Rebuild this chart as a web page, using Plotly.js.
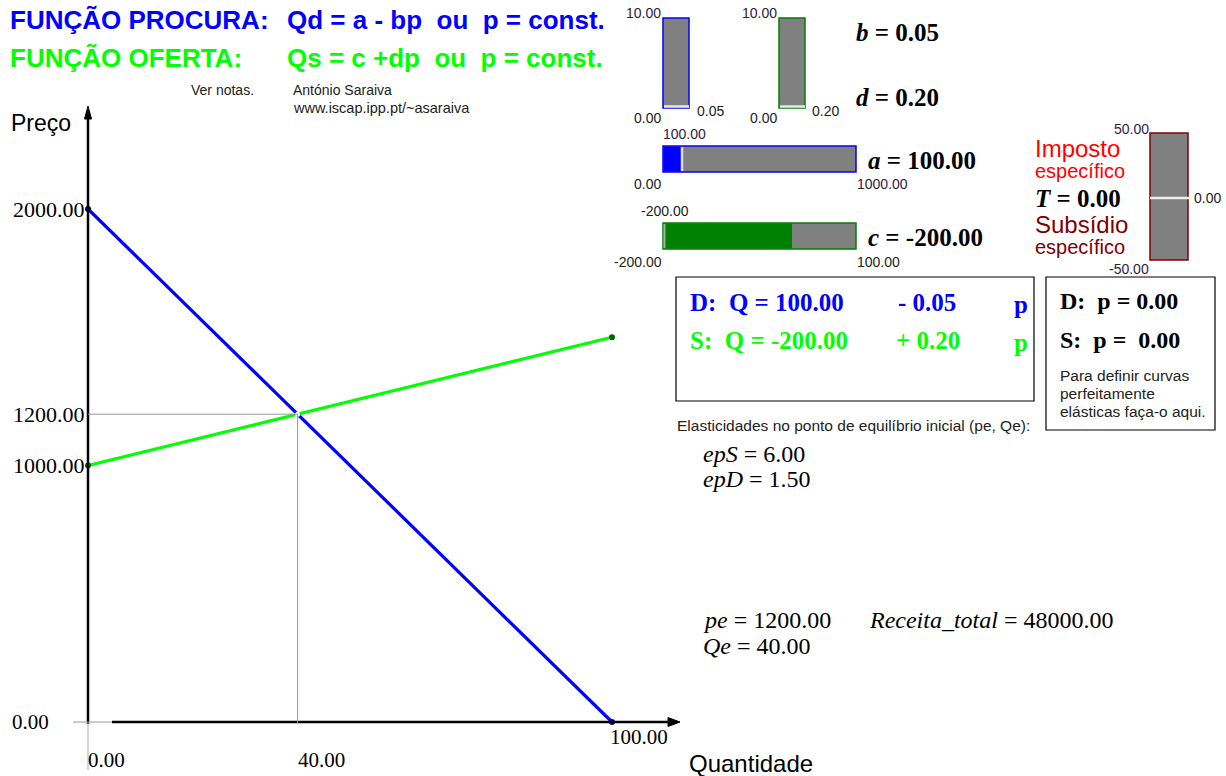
<!DOCTYPE html>
<html><head><meta charset="utf-8">
<script src="https://cdn.plot.ly/plotly-3.0.1.min.js"></script>
<style>html,body{margin:0;padding:0;background:#fff}#chart{width:1226px;height:776px}</style>
</head><body><div id="chart"></div>
<script>
// ---- data ----
const quantity = [0, 100];
const demandPrice = [2000, 0];      // Qd = 100 - 0.05p
const supplyPrice = [1000, 1500];   // Qs = -200 + 0.20p
const eqQ = 40, eqP = 1200;
const yTickLabels = ["2000.00", "1200.00", "1000.00", "0.00"];
const yTickValues = [2000, 1200, 1000, 0];
const xTickLabels = ["0.00", "40.00", "100.00"];
const xTickValues = [0, 40, 100];

// ---- pixel mapping for data axes ----
const W = 1226, H = 776;
const ox = 88, oy = 722, sx = 5.24, sy = 0.2565;
const xr = [-ox / sx, (W - ox) / sx];
const yr = [-(H - oy) / sy, oy / sy];
const X = q => ox + q * sx, Y = p => oy - p * sy;

const SANS = "Liberation Sans, Arial, sans-serif";
const SERIF = "Liberation Serif, Times New Roman, serif";

const shapes = [], ann = [];
function rect(x0, y0, x1, y1, fill, line, lw) {
  shapes.push({type: 'rect', xref: 'x2', yref: 'y2', x0, y0, x1, y1, fillcolor: fill, line: {color: line, width: lw === undefined ? 1 : lw}});
}
function seg(x0, y0, x1, y1, color, w) {
  shapes.push({type: 'line', xref: 'x2', yref: 'y2', x0, y0, x1, y1, line: {color, width: w}});
}
function txt(x, y, text, size, color, family, anchor) {
  ann.push({xref: 'x2', yref: 'y2', x, y, text, showarrow: false, xanchor: anchor || 'left', yanchor: 'middle',
    font: {size, color, family: family || SANS}});
}

// titles
txt(8, 20, "<b>FUNÇÃO PROCURA:</b>", 26, "#0000FF");
txt(285, 20, "<b>Qd = a - bp  ou  p = const.</b>", 26, "#0000FF");
txt(8, 58, "<b>FUNÇÃO OFERTA:</b>", 26, "#00FF00");
txt(285, 58, "<b>Qs = c +dp  ou  p = const.</b>", 26, "#00FF00");
txt(189, 90, "Ver notas.", 14, "#222");
txt(291, 90, "António Saraiva", 14, "#222");
txt(291, 108, "www.iscap.ipp.pt/~asaraiva", 14.5, "#222");
txt(9, 123, "Preço", 23, "#000");
txt(687, 763, "Quantidade", 24, "#000");

// axes
seg(X(0), Y(0) + 2, X(0), 112, "#000", 2.5);
shapes.push({type: 'path', xref: 'x2', yref: 'y2', path: 'M 84.5 119 L 88 106 L 91.5 119 Z', fillcolor: '#000', line: {color: '#000', width: 1}});
seg(112, Y(0), 670, Y(0), "#000", 2.5);
seg(73, Y(0), 112, Y(0), "#999", 1.2);
seg(X(0), Y(0), X(0), 770, "#aaa", 1);
shapes.push({type: 'path', xref: 'x2', yref: 'y2', path: 'M 668 717.5 L 680 722 L 668 726.5 Z', fillcolor: '#000', line: {color: '#000', width: 1}});
// equilibrium guides
seg(X(0), Y(eqP), X(eqQ), Y(eqP), "#999", 1);
seg(X(eqQ), Y(eqP), X(eqQ), Y(0) + 2, "#999", 1);

// tick labels
yTickValues.forEach((v, i) => {
  if (v === 0) txt(10, Y(v), yTickLabels[i], 21, "#000", SERIF);
  else txt(87, Y(v), yTickLabels[i], 22, "#000", SERIF, 'right');
});
txt(86, 760, xTickLabels[0], 21, "#000", SERIF);
txt(296, 760, xTickLabels[1], 21, "#000", SERIF);
txt(608, 737, xTickLabels[2], 21, "#000", SERIF);

// ---- sliders ----
const slab = "#302040";
// b slider
rect(663, 18, 689, 108, "#808080", "#0000FF", 1.5);
seg(664, 106.5, 689, 106.5, "#e8e8e8", 2.5);
txt(663, 13, "10.00", 14, slab, SANS, 'right');
txt(663, 118, "0.00", 14, "#222", SANS, 'right');
txt(695, 111, "0.05", 14, "#222");
// d slider
rect(779, 18, 805, 108, "#808080", "#008000", 1.5);
seg(780, 106.5, 805, 106.5, "#e8e8e8", 2.5);
txt(779, 13, "10.00", 14, slab, SANS, 'right');
txt(779, 118, "0.00", 14, "#222", SANS, 'right');
txt(810, 111, "0.20", 14, "#222");
txt(854, 32, "<b><i>b</i> = 0.05</b>", 25, "#000", SERIF);
txt(854, 97, "<b><i>d</i> = 0.20</b>", 25, "#000", SERIF);
// a slider
rect(663, 146, 856, 172, "#808080", "#0000FF", 1.5);
rect(663.5, 146.5, 681, 171.5, "#0000FF", "#0000FF", 0);
seg(682, 147, 682, 171, "#e0e0e0", 2.5);
txt(661, 134, "100.00", 14, slab);
txt(663, 184, "0.00", 14, "#222", SANS, 'right');
txt(855, 184, "1000.00", 14, slab);
txt(866, 160, "<b><i>a</i> = 100.00</b>", 25, "#000", SERIF);
// c slider
rect(663, 223, 856, 249, "#808080", "#008000", 1.5);
rect(664, 223.5, 792, 248.5, "#008000", "#008000", 0);
seg(664.5, 224, 664.5, 248, "#aaa", 2);
txt(639, 211, "-200.00", 14, "#222");
txt(664, 262, "-200.00", 14, "#222", SANS, 'right');
txt(855, 262, "100.00", 14, "#222");
txt(866, 237, "<b><i>c</i> = -200.00</b>", 25, "#000", SERIF);
// T slider
rect(1150, 133, 1188, 260, "#808080", "#800000", 1.5);
seg(1150, 198, 1190, 198, "#f0f0f0", 2.5);
txt(1151, 129, "50.00", 14, slab, SANS, 'right');
txt(1192, 198, "0.00", 14, "#222");
txt(1151, 269, "-50.00", 14, slab, SANS, 'right');
txt(1033, 148, "Imposto", 24, "#FF0000");
txt(1033, 171, "específico", 20, "#FF0000");
txt(1033, 198, "<b><i>T</i> = 0.00</b>", 25, "#000", SERIF);
txt(1033, 224, "Subsídio", 24, "#800000");
txt(1033, 247, "específico", 20, "#800000");

// equation box
rect(676, 277, 1034, 401, "rgba(0,0,0,0)", "#000", 1.2);
txt(688, 302, "<b>D:  Q = 100.00</b>", 25, "#0000FF", SERIF);
txt(896, 302, "<b>- 0.05</b>", 25, "#0000FF", SERIF);
txt(1012, 304, "<b>p</b>", 25, "#0000FF", SERIF);
txt(688, 340, "<b>S:  Q = -200.00</b>", 25, "#00FF00", SERIF);
txt(894, 340, "<b>+ 0.20</b>", 25, "#00FF00", SERIF);
txt(1012, 342, "<b>p</b>", 25, "#00FF00", SERIF);
// constant price box
rect(1046, 277, 1215, 430, "rgba(0,0,0,0)", "#000", 1.2);
txt(1058, 301, "<b>D:  p = 0.00</b>", 24, "#000", SERIF);
txt(1058, 340, "<b>S:  p =  0.00</b>", 24, "#000", SERIF);
txt(1058, 375, "Para definir curvas", 15.5, "#222");
txt(1058, 393, "perfeitamente", 15.5, "#222");
txt(1058, 411, "elásticas faça-o aqui.", 15.5, "#222");

txt(675, 425, "Elasticidades no ponto de equilíbrio inicial (pe, Qe):", 15.5, "#222");
txt(701, 454, "<i>epS</i> = 6.00", 24, "#000", SERIF);
txt(701, 479, "<i>epD</i> = 1.50", 24, "#000", SERIF);
txt(701, 620, "<i>pe</i> = 1200.00", 24, "#000", SERIF);
txt(867, 620, "<i>Receita_total</i> = 48000.00", 24, "#000", SERIF);
txt(701, 646, "<i>Qe</i> = 40.00", 24, "#000", SERIF);

const traces = [
  {x: quantity, y: demandPrice, type: 'scatter', mode: 'lines+markers', line: {color: '#0000FF', width: 3.2},
   marker: {color: '#000080', size: 6}, hoverinfo: 'none'},
  {x: quantity, y: supplyPrice, type: 'scatter', mode: 'lines+markers', line: {color: '#00FF00', width: 3.2},
   marker: {color: '#006400', size: 6}, hoverinfo: 'none'},
  {x: [eqQ], y: [eqP], type: 'scatter', mode: 'markers', marker: {color: '#ffffff', size: 5}, hoverinfo: 'none'}
];

const layout = {
  width: W, height: H, margin: {l: 0, r: 0, t: 0, b: 0},
  paper_bgcolor: '#fff', plot_bgcolor: '#fff', showlegend: false,
  xaxis: {range: xr, visible: false, fixedrange: true},
  yaxis: {range: yr, visible: false, fixedrange: true},
  xaxis2: {range: [0, W], visible: false, overlaying: 'x', fixedrange: true},
  yaxis2: {range: [H, 0], visible: false, overlaying: 'y', fixedrange: true},
  shapes, annotations: ann
};
Plotly.newPlot('chart', traces, layout, {displayModeBar: false, staticPlot: true});
</script></body></html>
